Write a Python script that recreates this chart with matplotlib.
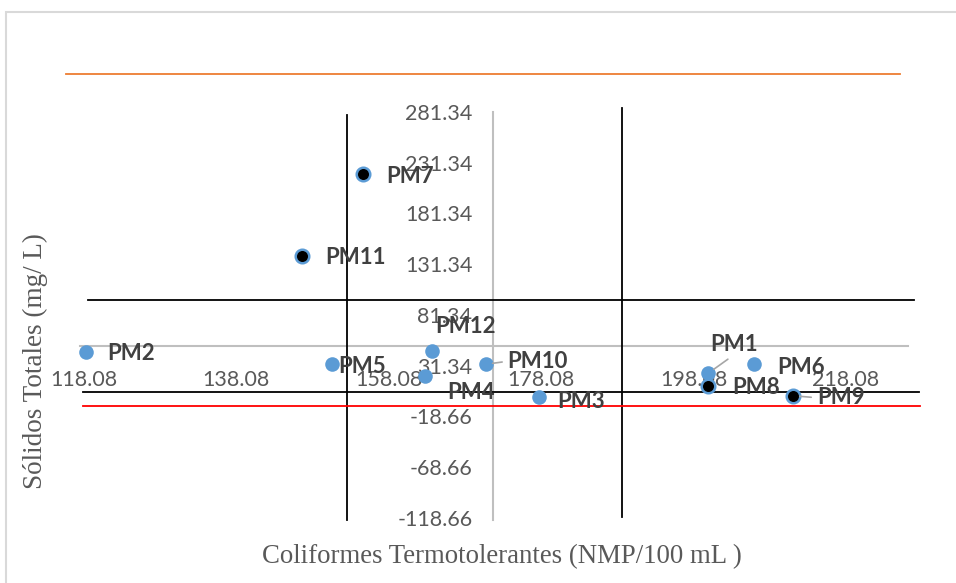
import matplotlib
matplotlib.use("Agg")
import matplotlib.pyplot as plt
from matplotlib.patches import Rectangle

# puntos de muestreo
names = ["PM1", "PM2", "PM3", "PM4", "PM5", "PM6", "PM7", "PM8", "PM9", "PM10", "PM11", "PM12"]
coliformes = [200.0, 118.3, 177.8, 162.8, 150.6, 206.0, 154.7, 200.0, 211.1, 170.8, 146.7, 163.7]
solidos = [23.9, 44.9, 0.8, 21.5, 32.8, 32.8, 220.0, 11.4, 1.8, 32.8, 139.8, 45.9]
dark_points = ["PM7", "PM8", "PM9", "PM11"]

x_ticks = [118.08, 138.08, 158.08, 178.08, 198.08, 218.08]
y_ticks = [-118.66, -68.66, -18.66, 31.34, 81.34, 131.34, 181.34, 231.34, 281.34]
x_cross = 171.8   # where the vertical axis sits
y_cross = 50.8    # where the horizontal axis sits

# reference lines (vertical: x, ymin, ymax / horizontal: y, xmin, xmax)
v_x = [152.6, 188.7]
v_ymin = [-120.6, -117.7]
v_ymax = [278.4, 285.3]
h_y = [96.1, 5.4, -8.3, 318.8]
h_xmin = [118.6, 117.95, 117.95, 115.7]
h_xmax = [227.0, 227.7, 227.8, 225.2]
h_colors = ["black", "black", "#FF0000", "#ED7D31"]

# label offsets in pixels (dx, dy), leader-line settings
offsets = {
    "PM1": (2, 29), "PM2": (22, -2), "PM3": (18, -5), "PM4": (23, -17),
    "PM5": (6, -2), "PM6": (23, -3), "PM7": (23, -2), "PM8": (24, -2),
    "PM9": (24, -2), "PM10": (22, 3), "PM11": (23, -2), "PM12": (4, 24),
}
leaders = {"PM1": (0.5, 0.0), "PM10": (0.0, 0.5), "PM9": (0.0, 0.5)}

blue = "#5B9BD5"
txt_gray = "#595959"
lbl_gray = "#404040"

fig = plt.figure(figsize=(9.56, 5.83), dpi=100)
ax = fig.add_axes([0, 0, 1, 1])
ax.set_xlim(107.06, 232.52)
ax.set_ylim(-182.70, 391.68)
ax.patch.set_alpha(0)

for s in ["top", "right"]:
    ax.spines[s].set_visible(False)
ax.spines["left"].set_position(("data", x_cross))
ax.spines["left"].set_bounds(-120.5, 281.34)
ax.spines["bottom"].set_position(("data", y_cross))
ax.spines["bottom"].set_bounds(117.6, 226.2)
for s in ["left", "bottom"]:
    ax.spines[s].set_color("#BFBFBF")
    ax.spines[s].set_linewidth(1.5)
    ax.spines[s].set_zorder(1)

ax.set_xticks(x_ticks)
ax.set_xticklabels([f"{v:.2f}" for v in x_ticks])
ax.set_yticks(y_ticks)
ax.set_yticklabels([f"{v:.2f}" for v in y_ticks])
ax.tick_params(axis="x", length=0, pad=17, labelsize=15.5, labelcolor=txt_gray)
ax.tick_params(axis="y", length=0, pad=15, labelsize=15.5, labelcolor=txt_gray)
for lab in ax.get_xticklabels() + ax.get_yticklabels():
    lab.set_family("Lato")

for x, a, b in zip(v_x, v_ymin, v_ymax):
    ax.plot([x, x], [a, b], color="black", lw=1.3, zorder=2, clip_on=False)
for y, a, b, c in zip(h_y, h_xmin, h_xmax, h_colors):
    ax.plot([a, b], [y, y], color=c, lw=1.3, zorder=2, clip_on=False)

for n, x, y in zip(names, coliformes, solidos):
    if n in dark_points:
        ax.scatter(x, y, s=95, facecolor="black", edgecolor=blue, linewidth=1.8, zorder=4)
    else:
        ax.scatter(x, y, s=110, color=blue, linewidth=0, zorder=3)
    dx, dy = offsets[n]
    kw = {}
    if n in leaders:
        kw["arrowprops"] = dict(arrowstyle="-", color="#A6A6A6", lw=1.2,
                                relpos=leaders[n], shrinkA=2, shrinkB=5)
    ax.annotate(n, (x, y), xytext=(dx, dy), textcoords="offset pixels",
                ha="left", va="center", fontsize=16, fontweight="bold",
                color=lbl_gray, family="Lato", zorder=5, **kw)

fig.text(502 / 956, 1 - 557 / 583, "Coliformes Termotolerantes (NMP/100 mL )",
         ha="center", va="center", fontsize=19.3, family="Liberation Serif", color=txt_gray)
fig.text(35 / 956, 1 - 361 / 583, "Sólidos Totales (mg/ L)", rotation=90,
         ha="center", va="center", fontsize=19.5, family="Liberation Serif", color=txt_gray)

fig.patches.append(Rectangle((6 / 956, -0.05), 1.2, 1 - 12 / 583 + 0.05,
                             transform=fig.transFigure, fill=False,
                             edgecolor="#D9D9D9", lw=1.5))

fig.savefig("out.png", dpi=100)
